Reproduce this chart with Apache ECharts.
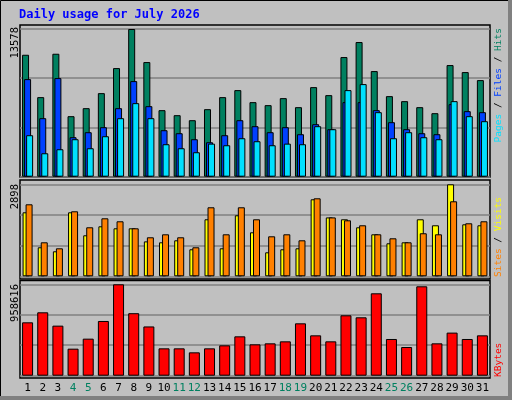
<!DOCTYPE html>
<html><head><meta charset="utf-8">
<script src="https://cdn.jsdelivr.net/npm/echarts@6/dist/echarts.min.js"></script>
<style>html,body{margin:0;padding:0;background:#c0c0c0}#c{width:512px;height:400px}</style>
</head><body><div id="c"></div>
<script>
const days = Array.from({length:31},(_,i)=>String(i+1));
const weekend = ['4','5','11','12','18','19','25','26'];
const hits  = [11210,7314,11303,5564,6300,7682,9985,13578,10538,6116,5656,5195,6209,7314,7959,6854,6577,7222,6393,8235,7498,10999,12380,9709,7406,6946,6393,5840,10262,9617,8880];
const files = [8972,5380,9064,3629,4090,4551,6300,8788,6485,4274,3998,3445,3169,3814,5195,4643,4090,4551,3906,4827,4366,6854,6854,6116,5011,4366,3998,3906,6669,6024,5932];
const pages = [3814,2155,2524,3445,2616,3721,5380,6761,5380,2985,2616,2248,3040,2892,3537,3261,2892,3040,2985,4643,4366,7959,8512,5932,3537,4090,3629,3445,6946,5564,5103];
const visits = [2016,914,788,2016,1292,1575,1512,1512,1100,1071,1134,851,1796,882,1922,1386,756,851,882,2426,1855,1796,1544,1323,1040,1071,1796,1607,2898,1638,1607];
const sites  = [2268,1071,882,2048,1544,1827,1733,1512,1229,1323,1229,914,2174,1323,2174,1796,1260,1323,1134,2457,1855,1764,1607,1323,1197,1071,1356,1323,2363,1670,1733];
const kbytes = [559925,664899,524934,283459,388433,573922,958616,655564,516536,286958,286958,244968,286958,318450,412928,328948,339445,360440,549428,423426,360440,633407,612412,864138,384934,300955,937621,339445,451920,384934,423426];
const maxHits = 13578, maxVisits = 2898, maxKB = 958616;

const grids = [
  {left:20, width:470, top:29, height:147.7},
  {left:20, width:470, top:184.3, height:92},
  {left:20, width:470, top:284.3, height:91.4}
];
const maxes = [maxHits, maxVisits, maxKB];
const mono = 'DejaVu Sans Mono';
const xAxis = grids.map((g,i)=>({
  type:'category', gridIndex:i, data:days, boundaryGap:true,
  axisLine:{show:false}, axisTick:{show:false}, splitLine:{show:false},
  axisLabel: i===2 ? {show:true, interval:0, margin:7, fontFamily:mono, fontSize:11,
    color:(v)=>weekend.includes(v)?'#008060':'#000'} : {show:false}
}));
const yAxis = maxes.map((m,i)=>({
  type:'value', gridIndex:i, min:0, max:m, interval:m/3,
  axisLine:{show:false}, axisTick:{show:false}, axisLabel:{show:false},
  splitLine:{show:true, lineStyle:{color:'#808080', width:1.5}}
}));
const bs = {borderColor:'#000', borderWidth:1};
const bar = (name,data,color,xi,w,gap)=>({name,type:'bar',xAxisIndex:xi,yAxisIndex:xi,data,barWidth:w,barGap:gap,
  itemStyle:Object.assign({color},bs),animation:false,silent:true});
const series = [
  bar('Hits',hits,'#008060',0,7,'-71%'),
  bar('Files',files,'#0040ff',0,7,'-71%'),
  bar('Pages',pages,'#00e0ff',0,7,'-71%'),
  bar('Visits',visits,'#ffff00',1,7,'-57%'),
  bar('Sites',sites,'#ff8000',1,7,'-57%'),
  bar('KBytes',kbytes,'#ff0000',2,11,'0%')
];
const frame = (y,h)=>({type:'rect',shape:{x:20,y:y,width:470,height:h},style:{fill:'none',stroke:'#000',lineWidth:1.5},silent:true});
const vtext = (x,y,txt,align,rich,size)=>({type:'text',x,y,rotation:Math.PI/2,
  style:{text:txt,align,verticalAlign:'middle',font:size+'px '+mono,fill:'#000',rich:rich||undefined},silent:true});
const r = (c)=>({fill:c,font:'9.5px '+mono});
const graphic = [
  {type:'rect',shape:{x:0.5,y:0.5,width:510,height:398},style:{fill:'none',stroke:'#000',lineWidth:1},silent:true},
  {type:'rect',shape:{x:0,y:396,width:512,height:4},style:{fill:'#808080'},silent:true},
  {type:'rect',shape:{x:508,y:0,width:4,height:400},style:{fill:'#808080'},silent:true},
  frame(25,152), frame(180,99), frame(280.5,97.5),
  {type:'text',x:19,y:15,style:{text:'Daily usage for July 2026',font:'bold 12px '+mono,fill:'#0000ff',verticalAlign:'middle'},silent:true},
  vtext(15,27,'13578','right',null,10.5), vtext(15,184,'2898','right',null,10.5), vtext(15,284,'958616','right',null,10.5),
  vtext(499,28,'{p|Pages}{k| / }{f|Files}{k| / }{h|Hits}','right',{p:r('#00e0ff'),f:r('#0040ff'),h:r('#008060'),k:r('#000')},9.5),
  vtext(499,277,'{s|Sites}{k| / }{v|Visits}','left',{s:r('#ff8000'),v:r('#ffff00'),k:r('#000')},9.5),
  vtext(499,377,'{q|KBytes}','left',{q:r('#ff0000')},9.5)
];
const chart = echarts.init(document.getElementById('c'));
chart.setOption({backgroundColor:'#c0c0c0',animation:false,grid:grids,xAxis,yAxis,series,graphic});
</script></body></html>
